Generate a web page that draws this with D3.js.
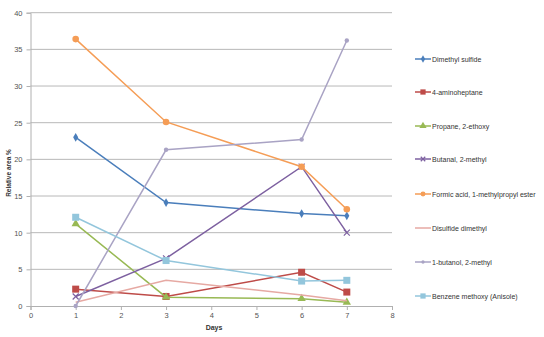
<!DOCTYPE html>
<html><head><meta charset="utf-8">
<script src="https://cdn.jsdelivr.net/npm/d3@7"></script>
<style>body{margin:0;background:#fff}svg{font-family:"Liberation Sans",Arial,sans-serif}</style>
</head><body><svg id="c" width="544" height="337"></svg>
<script>
const days = [1, 3, 6, 7];
const seriesNames = ["Dimethyl sulfide","4-aminoheptane","Propane, 2-ethoxy","Butanal, 2-methyl","Formic acid, 1-methylpropyl ester","Disulfide dimethyl","1-butanol, 2-methyl","Benzene methoxy (Anisole)"];
const dimethylSulfide = [23.0, 14.1, 12.6, 12.3];
const aminoheptane = [2.3, 1.3, 4.6, 1.9];
const propaneEthoxy = [11.2, 1.2, 1.0, 0.5];
const butanalMethyl = [1.3, 6.5, 19.0, 10.0];
const formicAcid = [36.4, 25.1, 19.0, 13.2];
const disulfideDimethyl = [0.5, 3.5, 1.5, 0.7];
const butanolMethyl = [0.0, 21.3, 22.7, 36.2];
const anisole = [12.1, 6.2, 3.4, 3.5];
const xTicks = [0,1,2,3,4,5,6,7,8];
const yTicks = [0,5,10,15,20,25,30,35,40];

const seriesValues = [dimethylSulfide, aminoheptane, propaneEthoxy, butanalMethyl, formicAcid, disulfideDimethyl, butanolMethyl, anisole];
const colors = ["#4a7ebb","#be4b48","#98b954","#7d60a0","#f59d56","#e6a9a3","#a9a3c4","#93c6dc"];
const markers = ["diamond","square","triangle","x","circle","none","smalldiamond","square"];
const lineW = [1.5,1.5,1.5,1.5,1.5,1.5,1.5,1.5];

const svg = d3.select("#c");
const x = d3.scaleLinear().domain([0,8]).range([30.5,392]);
const y = d3.scaleLinear().domain([0,40]).range([306,12.7]);

// gridlines
svg.append("g").selectAll("line").data(yTicks.filter(d=>d>0)).join("line")
  .attr("x1",x(0)).attr("x2",x(8)).attr("y1",d=>y(d)).attr("y2",d=>y(d))
  .attr("stroke","#b8b8b8").attr("stroke-width",1);

const yAxis = svg.append("g").attr("transform",`translate(${x(0)},0)`)
  .call(d3.axisLeft(y).tickValues(yTicks).tickSize(4).tickPadding(4));
const xAxis = svg.append("g").attr("transform",`translate(0,${y(0)})`)
  .call(d3.axisBottom(x).tickValues(xTicks).tickSize(4).tickPadding(3));
[yAxis,xAxis].forEach(a=>{
  a.selectAll("path,line").attr("stroke","#b0b0b0");
  a.selectAll("text").attr("fill","#555").style("font-size","7.5px").style("font-family","'Liberation Sans',Arial,sans-serif");
});

svg.append("text").attr("x",214).attr("y",330).attr("text-anchor","middle")
  .style("font-size","7px").style("font-weight","bold").attr("fill","#333").text("Days");
svg.append("text").attr("transform","translate(11,173) rotate(-90)").attr("text-anchor","middle")
  .style("font-size","6.5px").style("font-weight","bold").attr("fill","#333").text("Relative area %");

function drawMarker(g, type, cx, cy, color, scale){
  const s = scale||1;
  if(type==="diamond"){
    g.append("path").attr("d",d3.symbol(d3.symbolDiamond, 22*s)()).attr("transform",`translate(${cx},${cy})`).attr("fill",color);
  } else if(type==="smalldiamond"){
    g.append("circle").attr("cx",cx).attr("cy",cy).attr("r",2.2*s).attr("fill",color);
  } else if(type==="square"){
    const h=3.5*s;
    g.append("rect").attr("x",cx-h).attr("y",cy-h).attr("width",2*h).attr("height",2*h).attr("fill",color);
  } else if(type==="triangle"){
    g.append("path").attr("d",d3.symbol(d3.symbolTriangle, 30*s)()).attr("transform",`translate(${cx},${cy})`).attr("fill",color);
  } else if(type==="circle"){
    g.append("circle").attr("cx",cx).attr("cy",cy).attr("r",3.3*s).attr("fill",color);
  } else if(type==="x"){
    const h=3*s;
    g.append("path").attr("d",`M${cx-h},${cy-h}L${cx+h},${cy+h}M${cx-h},${cy+h}L${cx+h},${cy-h}`).attr("stroke",color).attr("stroke-width",1.2);
  }
}

const line = d3.line().x((d,i)=>x(days[i])).y(d=>y(d));
seriesValues.forEach((vals,si)=>{
  const g = svg.append("g");
  g.append("path").attr("d",line(vals)).attr("fill","none").attr("stroke",colors[si]).attr("stroke-width",lineW[si]);
  vals.forEach((v,i)=>drawMarker(g, markers[si], x(days[i]), y(v), colors[si]));
});

// legend
const legY = [59,92,126,159,194,228,262,296];
seriesNames.forEach((n,i)=>{
  const g = svg.append("g");
  g.append("line").attr("x1",415).attr("x2",431).attr("y1",legY[i]).attr("y2",legY[i]).attr("stroke",colors[i]).attr("stroke-width",1.5);
  drawMarker(g, markers[i], 423, legY[i], colors[i], 0.75);
  g.append("text").attr("x",432).attr("y",legY[i]+2.5).style("font-size","7px").attr("fill","#333").text(n);
});
</script></body></html>
